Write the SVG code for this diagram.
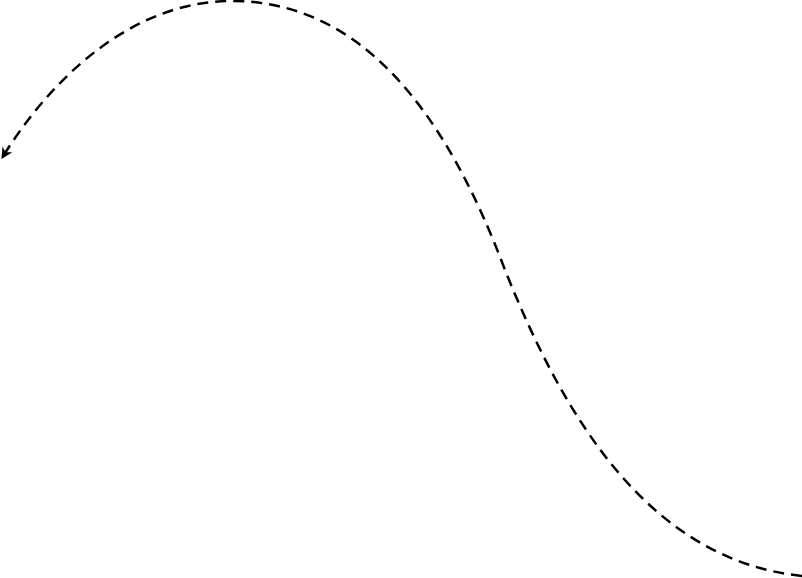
<svg xmlns="http://www.w3.org/2000/svg" width="802" height="578" viewBox="0 0 802 578">
<defs>
<marker id="arr" viewBox="0 0 10 10" refX="9" refY="5" markerWidth="4.5" markerHeight="4.5" orient="auto" markerUnits="strokeWidth">
<path d="M0,0 L10,5 L0,10 L3,5 Z" fill="#000"/>
</marker>
</defs>
<rect width="802" height="578" fill="#fff"/>
<g id="connectors">
<path d="M 802,576 C 650,560 565,420 505,270 C 445,110 360,0 230,1 C 130,2 50,80 2,158" fill="none" stroke="#000" stroke-width="2.5" stroke-dasharray="11,7" marker-end="url(#arr)"/>
</g>
</svg>
